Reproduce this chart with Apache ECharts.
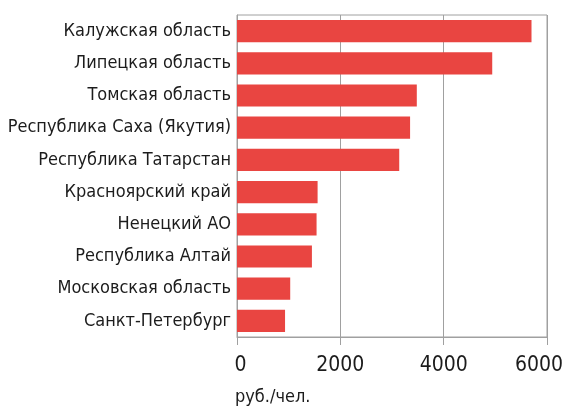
<!DOCTYPE html>
<html><head><meta charset="utf-8">
<script src="https://cdn.jsdelivr.net/npm/echarts@6/dist/echarts.min.js"></script>
<style>html,body{margin:0;padding:0;background:#fff}#c{width:566px;height:408px}</style>
</head><body><div id="c"></div>
<script>
const categories = ["Калужская область","Липецкая область","Томская область","Республика Саха (Якутия)","Республика Татарстан","Красноярский край","Ненецкий АО","Республика Алтай","Московская область","Санкт-Петербург"];
const values = [5700, 4940, 3480, 3350, 3140, 1560, 1540, 1450, 1030, 930];
const xTicks = [0, 2000, 4000, 6000];
const unitLabel = "руб./чел.";

const font = '"DejaVu Sans Condensed", "DejaVu Sans", sans-serif';
const textColor = '#1c1c1c';
const chart = echarts.init(document.getElementById('c'), null, {renderer: 'canvas'});
chart.setOption({
  animation: false,
  title: {text: unitLabel, left: 230, top: 383, textStyle: {fontFamily: font, fontSize: 18, fontWeight: 'normal', color: textColor}},
  grid: {left: 237, right: 19, top: 15, bottom: 71, show: true, borderColor: '#a0a0a0', borderWidth: 1, containLabel: false, outerBoundsMode: 'none'},
  xAxis: {
    type: 'value', min: xTicks[0], max: xTicks[xTicks.length-1], interval: 2000,
    axisLine: {show: true, lineStyle: {color: '#a0a0a0'}},
    axisTick: {show: true, length: 8, lineStyle: {color: '#a0a0a0'}},
    splitLine: {show: true, lineStyle: {color: '#a0a0a0', width: 1}},
    axisLabel: {
      margin: 18, fontFamily: font, fontSize: 21, color: textColor,
      formatter: v => v === 6000 ? '{r|' + v + '}' : (v === 0 ? '{l|' + v + '}' : String(v)),
      rich: {r: {fontFamily: font, fontSize: 21, color: textColor, padding: [0, 16, 0, 0]},
             l: {fontFamily: font, fontSize: 21, color: textColor, padding: [0, 0, 0, 7]}}
    }
  },
  yAxis: {
    type: 'category', data: categories, inverse: true,
    axisLine: {show: true, lineStyle: {color: '#a0a0a0'}},
    axisTick: {show: false},
    axisLabel: {margin: 6, fontFamily: font, fontSize: 18, color: textColor}
  },
  series: [{
    type: 'bar', data: values, barCategoryGap: '31%',
    itemStyle: {color: '#e94541'}
  }]
});
</script></body></html>
